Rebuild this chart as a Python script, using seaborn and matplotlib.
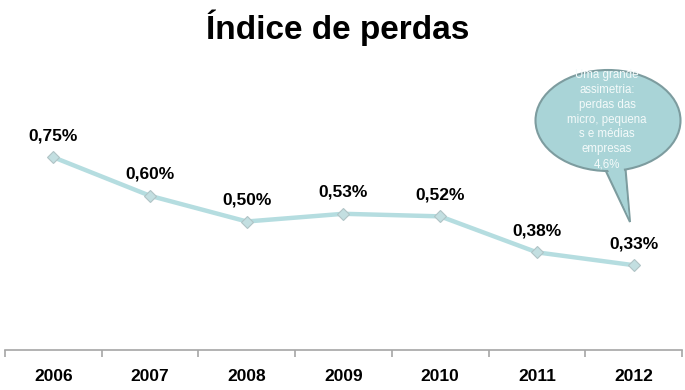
import matplotlib
matplotlib.use("Agg")
import matplotlib.pyplot as plt
import seaborn as sns
import pandas as pd
from matplotlib.patches import Ellipse, Polygon

# Data
years = ['2006', '2007', '2008', '2009', '2010', '2011', '2012']
losses = [0.75, 0.60, 0.50, 0.53, 0.52, 0.38, 0.33]
value_labels = ['0,75%', '0,60%', '0,50%', '0,53%', '0,52%', '0,38%', '0,33%']
callout_text = 'Uma grande\nassimetria:\nperdas das\nmicro, pequena\ns e médias\nempresas\n4,6%'

sns.set_style('white')
plt.rcParams['font.family'] = ['Liberation Sans', 'DejaVu Sans']

df = pd.DataFrame({'ano': years, 'perda': losses})

fig = plt.figure(figsize=(6.85, 3.9), dpi=100)
ax = fig.add_axes([5 / 685, 40 / 390, 677 / 685, 257 / 390])

sns.lineplot(data=df, x='ano', y='perda', ax=ax, color='#b5dde0', linewidth=3.2,
             marker='D', markersize=6, markerfacecolor='#c3dfe1',
             markeredgecolor='#b0c4c6', markeredgewidth=0.8)

ax.set_xlim(-0.5, len(years) - 0.5)
ax.set_ylim(0, 1.0)
ax.set_yticks([])
ax.set_xlabel('')
ax.set_ylabel('')

for i, (v, lab) in enumerate(zip(losses, value_labels)):
    ax.annotate(lab, (i, v), xytext=(0, 10), textcoords='offset points',
                ha='center', va='bottom', fontsize=12.5, fontweight='bold',
                color='black')

# x axis with ticks between categories
for s in ['top', 'right', 'left']:
    ax.spines[s].set_visible(False)
ax.spines['bottom'].set_color('#a6a6a6')
ax.spines['bottom'].set_linewidth(1.2)
ax.set_xticks(range(len(years)))
ax.set_xticklabels(years, fontsize=12.5, fontweight='bold', color='black')
ax.tick_params(axis='x', which='major', bottom=True, length=0, pad=14)
ax.set_xticks([i - 0.5 for i in range(len(years) + 1)], minor=True)
ax.tick_params(axis='x', which='minor', bottom=True, length=5,
               color='#a6a6a6', width=1.2)

fig.suptitle('Índice de perdas', fontsize=24, fontweight='bold', color='black',
             x=0.493, y=0.975)

# Speech bubble callout
bubble_color = '#a9d4d7'
edge_color = '#7d9c9f'
tail = Polygon([(603 / 685, 1 - 165 / 390), (630 / 685, 1 - 222 / 390),
                (625 / 685, 1 - 163 / 390)], closed=True,
               transform=fig.transFigure, facecolor=bubble_color,
               edgecolor=edge_color, linewidth=1.5, zorder=5)
ell = Ellipse((608 / 685, 1 - 120.5 / 390), 145 / 685, 101 / 390,
              transform=fig.transFigure, facecolor=bubble_color,
              edgecolor=edge_color, linewidth=1.5, zorder=5)
fig.patches.extend([tail, ell])
tail_fill = Polygon([(605 / 685, 1 - 163 / 390), (629 / 685, 1 - 218 / 390),
                     (623 / 685, 1 - 161 / 390)], closed=True,
                    transform=fig.transFigure, facecolor=bubble_color,
                    edgecolor='none', zorder=6)
fig.patches.append(tail_fill)
fig.text(607 / 685, 1 - 119.5 / 390, callout_text, ha='center', va='center',
         fontsize=8.3, color='#f4fafa', linespacing=1.32, zorder=7)

fig.savefig('out.png', dpi=100)
